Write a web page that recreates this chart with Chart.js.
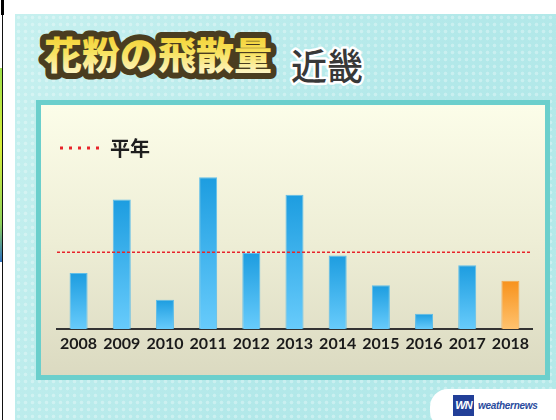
<!DOCTYPE html>
<html><head><meta charset="utf-8">
<script src="https://cdn.jsdelivr.net/npm/chart.js@4.4.1/dist/chart.umd.min.js"></script>
<style>
html,body{margin:0;padding:0;}
body{width:556px;height:420px;overflow:hidden;background:#fff;position:relative;}
#leftline{position:absolute;left:2px;top:0;width:1px;height:420px;background:#111;}
#lefttop{position:absolute;left:1px;top:0;width:3px;height:15px;background:#000;}
#strip{position:absolute;left:0;top:68px;width:2px;height:194px;background:linear-gradient(#9ee04a,#d8ef3a 40%,#8fd25a 80%,#2a6fc0);}
#bg{position:absolute;left:15px;top:14px;right:0;bottom:0;
 background:
  radial-gradient(circle,rgba(255,255,255,0.30) 1.4px,transparent 2.2px) 0 0/7px 7px,
  linear-gradient(120deg,#c6f0ef 0%,#bcecec 30%,#b2e8e9 60%,#b4e9e9 100%);}
#panel{position:absolute;left:36px;top:100px;width:504px;height:270px;border:5px solid #6bcfcc;
 background:linear-gradient(#fcfde9,#eeeed6 50%,#dbdac1);}
#title{position:absolute;left:0;top:0;}
#chartbox{position:absolute;left:0;top:0;width:556px;height:420px;}
#logo{position:absolute;left:430px;top:389px;width:150px;height:40px;border-radius:18px;background:#fff;}
#wn{position:absolute;left:23px;top:6px;width:21px;height:21px;background:#223f98;color:#fff;
 font:italic bold 11px "Liberation Sans";line-height:21px;text-align:center;letter-spacing:-1px;}
#wtext{position:absolute;left:48px;top:11px;font:italic bold 10px "Liberation Sans";color:#2a4b9d;letter-spacing:-0.3px;}
</style></head>
<body>
<div id="leftline"></div><div id="lefttop"></div><div id="strip"></div>
<div id="bg"></div>
<div id="panel"></div>
<svg id="title" width="556" height="100">
 <defs><linearGradient id="tg" x1="0" y1="0" x2="0" y2="1">
  <stop offset="0" stop-color="#f2c81a"/><stop offset="0.5" stop-color="#f7e25e"/><stop offset="1" stop-color="#fffbe8"/>
 </linearGradient></defs>
 <text x="44" y="69" font-family="Noto Sans CJK JP" font-weight="900" font-size="38" fill="url(#tg)" stroke="#4a3d20" stroke-width="12" stroke-linejoin="round" paint-order="stroke">花粉の飛散量</text>
 <text x="291" y="80" font-family="Noto Sans CJK JP" font-weight="500" font-size="36" fill="#383838" stroke="#ffffff" stroke-width="5" stroke-linejoin="round" paint-order="stroke">近畿</text>
</svg>
<div id="chartbox"><canvas id="c"></canvas></div>
<div id="logo"><div id="wn">WN</div><span id="wtext">weathernews</span></div>
<script>
const years = ['2008','2009','2010','2011','2012','2013','2014','2015','2016','2017','2018'];
const pollen = [73, 169, 38, 198, 99, 175, 96, 57, 20, 83, 63];
const normalLabel = '平年';
const normalValue = 100;

function barFill(ctx) {
  const chart = ctx.chart;
  const last = ctx.dataIndex === years.length - 1;
  if (!chart.chartArea || ctx.type !== 'data' || !ctx.parsed) return last ? '#f9a73a' : '#3bb1ec';
  const y = chart.scales.y;
  const top = y.getPixelForValue(ctx.parsed.y);
  const base = y.getPixelForValue(0);
  const g = chart.ctx.createLinearGradient(0, top, 0, base);
  if (last) { g.addColorStop(0, '#f7921c'); g.addColorStop(1, '#ffc26e'); }
  else { g.addColorStop(0, '#1d9de0'); g.addColorStop(1, '#67cbfb'); }
  return g;
}

new Chart(document.getElementById('c'), {
  data: {
    labels: years,
    datasets: [
      {
        type: 'bar', label: '花粉の飛散量', data: pollen, order: 1, grouped: false,
        backgroundColor: barFill,
        borderColor: (c) => c.dataIndex === years.length - 1 ? 'rgba(245,160,60,0.9)' : 'rgba(80,185,235,0.9)',
        borderWidth: 1, barPercentage: 0.417, categoryPercentage: 1
      },
      {
        type: 'line', label: normalLabel, xAxisID: 'x2', order: 0,
        data: [{x: 0, y: normalValue}, {x: 1, y: normalValue}],
        borderColor: '#e8242a', borderWidth: 1.5, borderDash: [3, 2],
        pointRadius: 0, pointStyle: 'line', fill: false
      }
    ]
  },
  options: {
    responsive: true, maintainAspectRatio: false, animation: false,
    layout: { padding: { left: 57, right: 24, top: 135, bottom: 61 } },
    scales: {
      x: {
        type: 'category', offset: true,
        grid: { display: false, drawTicks: false },
        border: { display: true, color: '#333333', width: 2 },
        ticks: { color: '#1a1a1a', font: { family: 'Lato', size: 16, weight: 'bold' }, padding: 5, maxRotation: 0 },
        afterFit: (s) => { s.height = 30; }
      },
      x2: { type: 'linear', display: false, min: 0, max: 1 },
      y: { display: false, min: 0, max: 210 }
    },
    plugins: {
      tooltip: { enabled: false },
      legend: {
        position: 'top', align: 'start',
        labels: {
          usePointStyle: true, pointStyleWidth: 40, padding: 3,
          color: '#1e1e1e', font: { family: 'Noto Sans CJK JP', size: 20, weight: 'bold' },
          filter: (item) => item.text === normalLabel,
          generateLabels: (chart) => Chart.defaults.plugins.legend.labels.generateLabels(chart).map(it => {
            if (it.text === normalLabel) {
              it.lineWidth = 3; it.lineDash = [3, 6]; it.pointStyle = 'line'; it.strokeStyle = '#e8242a';
            }
            return it;
          })
        }
      }
    }
  }
});
</script>
</body></html>
